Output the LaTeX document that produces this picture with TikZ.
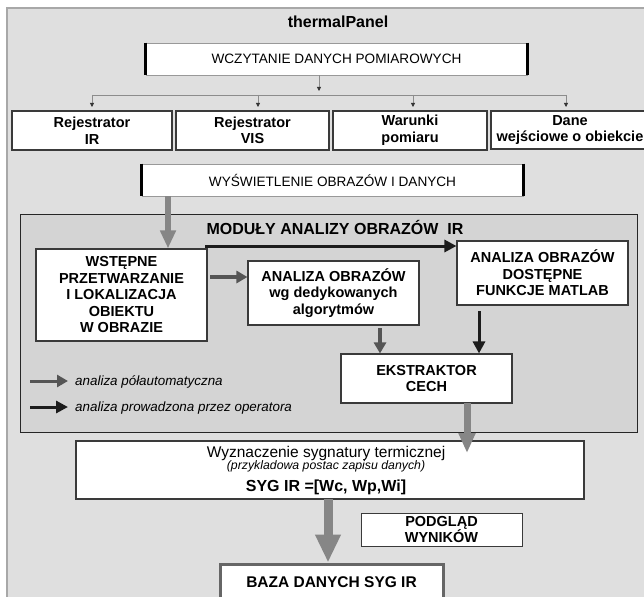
\documentclass[tikz,border=0pt]{standalone}
\usepackage{fontspec}
\setmainfont{Liberation Sans}
\usetikzlibrary{arrows.meta}
\definecolor{outerbg}{HTML}{DFDFDF}
\definecolor{modbg}{HTML}{D4D4D4}
\definecolor{outerline}{HTML}{A8A8A8}
\definecolor{boxline}{HTML}{3A3A3A}
\definecolor{lightarrow}{HTML}{868686}
\definecolor{darkarrow}{HTML}{555555}
\definecolor{blackarrow}{HTML}{1C1C1C}
\begin{document}
\begin{tikzpicture}[x=1pt,y=-1pt,
  wbox/.style={draw=boxline, line width=1.1pt, fill=white, align=center, inner sep=0pt,
     font=\bfseries\fontsize{14.5}{16.5}\selectfont},
  barbox/.style={draw=gray!80, line width=0.8pt, fill=white, inner sep=0pt,
     font=\fontsize{13.6}{16}\selectfont},
  thickedge/.style={draw=black, line width=3pt},
  forkline/.style={draw=gray!90, line width=0.8pt},
  thinarrow/.style={draw=gray!90, line width=0.8pt, -{Triangle[length=4pt,width=4pt,color=black!80]}},
  semiarrow/.style={draw=darkarrow, line width=3.5pt, -{Triangle[length=11pt,width=12pt]}},
  oparrow/.style={draw=blackarrow, line width=3pt, -{Triangle[length=12pt,width=12pt]}},
  bigarrow/.style={draw=lightarrow, line width=6pt, -{Triangle[length=18pt,width=15pt]}},
  hugearrow/.style={draw=lightarrow, line width=9pt, -{Triangle[length=28pt,width=24pt]}},
  plain/.style={inner sep=0pt},
]
\useasboundingbox (0,0) rectangle (644,596);
\clip (0,0) rectangle (644,596);
\fill[white] (0,0) rectangle (644,596);
\draw[fill=outerbg, draw=outerline, line width=1.2pt] (7,8) rectangle (660,610);

% title
\node[plain, font=\bfseries\fontsize{16}{18}\selectfont] (title) at (338,22) {thermalPanel};

% top bar
\node[barbox, minimum width=381pt, minimum height=32pt] (wcz) at (336.5,59) {WCZYTANIE DANYCH POMIAROWYCH};
\draw[thickedge] (wcz.north west) -- (wcz.south west);
\draw[thickedge] (wcz.north east) -- (wcz.south east);

% input boxes
\node[wbox, minimum width=160pt, minimum height=39pt] (rir) at (92,130.5) {Rejestrator\\IR};
\node[wbox, minimum width=153pt, minimum height=39pt] (rvis) at (252.5,130.5) {Rejestrator\\VIS};
\node[wbox, minimum width=154pt, minimum height=39pt] (war) at (410,130.5) {Warunki\\pomiaru};
\node[wbox, minimum width=158pt, minimum height=38pt] (dane) at (570,130) {Dane\\wejściowe o obiekcie};

% fork
\coordinate (fk) at (319,91);
\coordinate (hl) at (92,95);
\coordinate (hr) at (566,95);
\coordinate (h2) at (258,95);
\coordinate (h3) at (413,95);
\coordinate (t1) at (92,107);
\coordinate (t2) at (258,107);
\coordinate (t3) at (413,107);
\coordinate (t4) at (566,107);
\draw[thinarrow] (fk |- wcz.south) -- (fk);
\draw[forkline] (hl) -- (hr);
\draw[thinarrow] (hl) -- (t1);
\draw[thinarrow] (h2) -- (t2);
\draw[thinarrow] (h3) -- (t3);
\draw[thinarrow] (hr) -- (t4);

% display bar
\node[barbox, minimum width=381pt, minimum height=32pt] (wys) at (332.5,180) {WYŚWIETLENIE OBRAZÓW I DANYCH};
\draw[thickedge] (wys.north west) -- (wys.south west);
\draw[thickedge] (wys.north east) -- (wys.south east);

% module frame
\node[draw=black!85, line width=1pt, fill=modbg, minimum width=617pt, minimum height=218pt, inner sep=0pt] (mod) at (328.5,323) {};
\node[plain, font=\bfseries\fontsize{16}{18}\selectfont] (modt) at (335,227) {MODUŁY ANALIZY OBRAZÓW\ \ IR};

\node[wbox, minimum width=171pt, minimum height=92pt] (wst) at (121.5,295) {WSTĘPNE\\PRZETWARZANIE\\I LOKALIZACJA\\OBIEKTU\\W OBRAZIE};
\node[wbox, minimum width=171pt, minimum height=64pt] (wg) at (333.5,293) {ANALIZA OBRAZÓW\\wg dedykowanych\\algorytmów};
\node[wbox, minimum width=171pt, minimum height=64pt] (mat) at (542.5,273) {ANALIZA OBRAZÓW\\DOSTĘPNE\\FUNKCJE MATLAB};
\node[wbox, minimum width=171pt, minimum height=49pt] (ekst) at (426.5,378.5) {EKSTRAKTOR\\CECH};

% arrows inside module
\coordinate (bstart) at (205,246);
\draw[oparrow] (bstart) -- (bstart -| mat.west);
\coordinate (g2) at (210,277);
\draw[semiarrow] (g2) -- (g2 -| wg.west);
\coordinate (g3) at (380,328);
\draw[semiarrow] (g3) -- (g3 |- ekst.north);
\coordinate (g4) at (479,311);
\draw[oparrow] (g4) -- (g4 |- ekst.north);

% legend
\coordinate (l1a) at (30,381);
\coordinate (l1b) at (68,381);
\coordinate (l2a) at (30,407);
\coordinate (l2b) at (68,407);
\draw[semiarrow, line width=3pt] (l1a) -- (l1b);
\draw[oparrow] (l2a) -- (l2b);
\node[plain, anchor=west, font=\itshape\fontsize{13.4}{15}\selectfont] (lt1) at (75,382) {analiza półautomatyczna};
\node[plain, anchor=west, font=\itshape\fontsize{13.4}{15}\selectfont] (lt2) at (75,408) {analiza prowadzona przez operatora};

% wys -> wst
\coordinate (g1) at (168,196);
\draw[bigarrow] (g1) -- (g1 |- wst.north);

% signature box
\node[wbox, minimum width=508pt, minimum height=58pt] (syg) at (330,470) {};
\node[plain, font=\fontsize{15.5}{17}\selectfont] (syg1) at (326,453) {Wyznaczenie sygnatury termicznej};
\node[plain, font=\itshape\fontsize{12.3}{14}\selectfont] (syg2) at (326,466) {(przykladowa postac zapisu danych)};
\node[plain, font=\bfseries\fontsize{16}{18}\selectfont] (syg3) at (326,487) {SYG IR =[Wc, Wp,Wi]};

% ekst -> syg
\coordinate (g5) at (467,403);
\coordinate (g5t) at (467,453);
\draw[bigarrow, line width=7pt, -{Triangle[length=20pt,width=16pt]}] (g5) -- (g5t);

% preview box
\node[wbox, line width=0.9pt, minimum width=161pt, minimum height=33pt] (podg) at (441.5,529.5) {PODGLĄD\\WYNIKÓW};

% database box
\node[draw=black!60, line width=3pt, fill=white, minimum width=223pt, minimum height=50pt, inner sep=0pt] (baza) at (331.5,589) {};
\node[plain, font=\bfseries\fontsize{15.5}{17}\selectfont] (bazat) at (331.5,582) {BAZA DANYCH SYG IR};

% syg -> baza
\coordinate (g6) at (328,499);
\draw[hugearrow] (g6) -- (g6 |- baza.north);
\end{tikzpicture}
\end{document}
